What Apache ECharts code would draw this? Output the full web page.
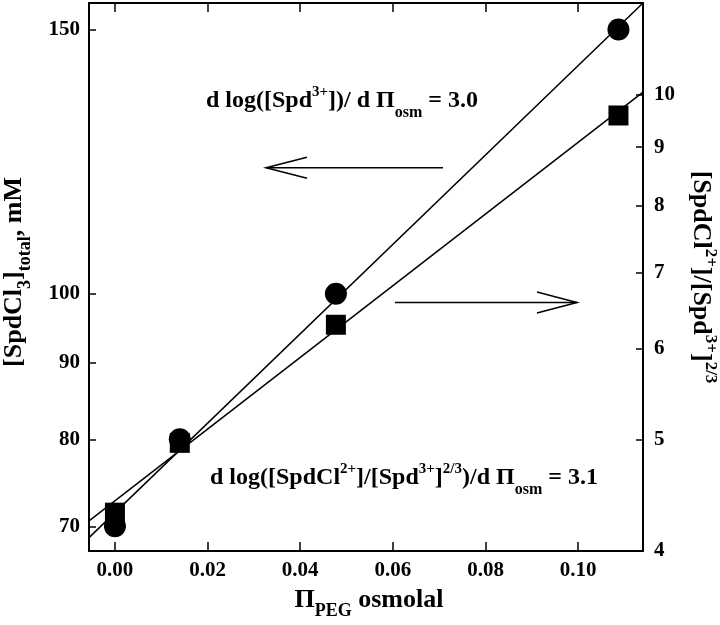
<!DOCTYPE html>
<html><head><meta charset="utf-8">
<script src="https://cdn.jsdelivr.net/npm/echarts@6/dist/echarts.min.js"></script>
<style>html,body{margin:0;padding:0;background:#fff}#c{width:720px;height:625px}</style>
</head><body><div id="c"></div>
<script>
// ---- data ----
const xTicks = [0, 0.02, 0.04, 0.06, 0.08, 0.10];
const leftTicks = [70, 80, 90, 100, 150];
const rightTicks = [4, 5, 6, 7, 8, 9, 10];
const xPoints = [0, 0.014, 0.0477, 0.1087];
const spdTotal = [70, 80, 100, 150];        // circles, left axis (mM)
const ratio = [4.32, 4.97, 6.30, 9.59];     // squares, right axis
const fitX = [-0.0056, 0.1140];
const fitTotal = [68.8, 156.2];
const fitRatio = [4.25, 10.05];
const xRange = [-0.0056, 0.1140];
const leftRange = [67.4, 156.2];
const rightRange = [4, 12.02];

const FONT = 'Liberation Serif';
const zip = (a, b) => a.map((v, i) => [v, b[i]]);
const black = '#000';

const axisLine = {onZero: false, lineStyle: {color: black, width: 2}};
const lbl = {color: black, fontFamily: FONT, fontWeight: 'bold', fontSize: 21};

const chart = echarts.init(document.getElementById('c'), null, {renderer: 'canvas'});

const B = {fontFamily: FONT, fontWeight: 'bold', fill: black};
const richSmall = {
  b: Object.assign({fontSize: 24, lineHeight: 40}, B),
  sp: Object.assign({fontSize: 15, lineHeight: 28, verticalAlign: 'top', padding: [4, 0, 0, 0]}, B),
  sb: Object.assign({fontSize: 16, lineHeight: 16, verticalAlign: 'bottom'}, B)
};
const richBig = {
  b: Object.assign({fontSize: 26, lineHeight: 40}, B),
  sp: Object.assign({fontSize: 17, lineHeight: 24, verticalAlign: 'top', padding: [2, 0, 0, 0]}, B),
  sb: Object.assign({fontSize: 18, lineHeight: 16, verticalAlign: 'bottom'}, B)
};

function txt(x, y, text, rich, extra) {
  return Object.assign({
    type: 'text', x: x, y: y, silent: true,
    style: {text: text, rich: rich, align: (extra && extra.align) || 'left', verticalAlign: 'middle', fill: black}
  }, extra && extra.rotation !== undefined ? {rotation: extra.rotation} : {});
}
function arrow(x1, x2, y, head) {
  const dir = x2 > x1 ? -1 : 1;
  return [
    {type: 'line', silent: true, shape: {x1: x1, y1: y, x2: x2, y2: y}, style: {stroke: black, lineWidth: 1.5}},
    {type: 'polyline', silent: true, shape: {points: [[x2 + dir * head, y - 10.5], [x2, y], [x2 + dir * head, y + 10.5]]}, style: {stroke: black, lineWidth: 1.5, fill: null}}
  ];
}

const option = {
  animation: false,
  backgroundColor: '#fff',
  grid: {left: 89, top: 3, right: 77, bottom: 74, containLabel: false},
  xAxis: [
    {type: 'value', min: xRange[0], max: xRange[1], position: 'bottom',
     axisLine: axisLine, splitLine: {show: false},
     axisTick: {inside: true, length: 9, customValues: xTicks, lineStyle: {color: black, width: 1.5}},
     axisLabel: Object.assign({customValues: xTicks, margin: 9, formatter: v => Number(v).toFixed(2)}, lbl)},
    {type: 'value', min: xRange[0], max: xRange[1], position: 'top',
     axisLine: axisLine, splitLine: {show: false},
     axisTick: {inside: true, length: 9, customValues: xTicks, lineStyle: {color: black, width: 1.5}},
     axisLabel: {show: false}}
  ],
  yAxis: [
    {type: 'log', logBase: 10, min: leftRange[0], max: leftRange[1], position: 'left',
     axisLine: axisLine, splitLine: {show: false}, minorTick: {show: false},
     axisTick: {inside: true, length: 7, customValues: leftTicks, lineStyle: {color: black, width: 1.5}},
     axisLabel: Object.assign({customValues: leftTicks, margin: 9, formatter: v => String(Math.round(v))}, lbl)},
    {type: 'log', logBase: 10, min: rightRange[0], max: rightRange[1], position: 'right',
     axisLine: axisLine, splitLine: {show: false}, minorTick: {show: false},
     axisTick: {inside: true, length: 7, customValues: rightTicks, lineStyle: {color: black, width: 1.5}},
     axisLabel: Object.assign({customValues: rightTicks, margin: 11, formatter: v => String(Math.round(v))}, lbl)}
  ],
  series: [
    {type: 'line', xAxisIndex: 0, yAxisIndex: 0, data: zip(fitX, fitTotal), symbol: 'none', silent: true,
     lineStyle: {color: black, width: 1.5}, clip: true},
    {type: 'line', xAxisIndex: 0, yAxisIndex: 1, data: zip(fitX, fitRatio), symbol: 'none', silent: true,
     lineStyle: {color: black, width: 1.5}, clip: true},
    {type: 'scatter', xAxisIndex: 0, yAxisIndex: 0, data: zip(xPoints, spdTotal), symbol: 'circle', symbolSize: 22,
     itemStyle: {color: black, opacity: 1}},
    {type: 'scatter', xAxisIndex: 0, yAxisIndex: 1, data: zip(xPoints, ratio), symbol: 'rect', symbolSize: 20,
     itemStyle: {color: black, opacity: 1}}
  ],
  graphic: [].concat(
    arrow(443, 266, 167.7, 41),
    arrow(395, 577, 302.5, 40),
    [
      txt(206, 101, '{b|d log([Spd}{sp|3+}{b|])/ d Π}{sb|osm}{b| = 3.0}', richSmall),
      txt(210, 478, '{b|d log([SpdCl}{sp|2+}{b|]/[Spd}{sp|3+}{b|]}{sp|2/3}{b|)/d Π}{sb|osm}{b| = 3.1}', richSmall),
      txt(14, 272, '{b|[SpdCl}{sb|3}{b|]}{sb|total}{b|, mM}', richBig, {rotation: Math.PI / 2, align: 'center'}),
      txt(701, 277, '{b|[SpdCl}{sp|2+}{b|]/[Spd}{sp|3+}{b|]}{sp|2/3}', richBig, {rotation: -Math.PI / 2, align: 'center'}),
      txt(369, 600, '{b|Π}{sb|PEG}{b| osmolal}', richBig, {align: 'center'})
    ]
  )
};
chart.setOption(option);
</script>
</body></html>
